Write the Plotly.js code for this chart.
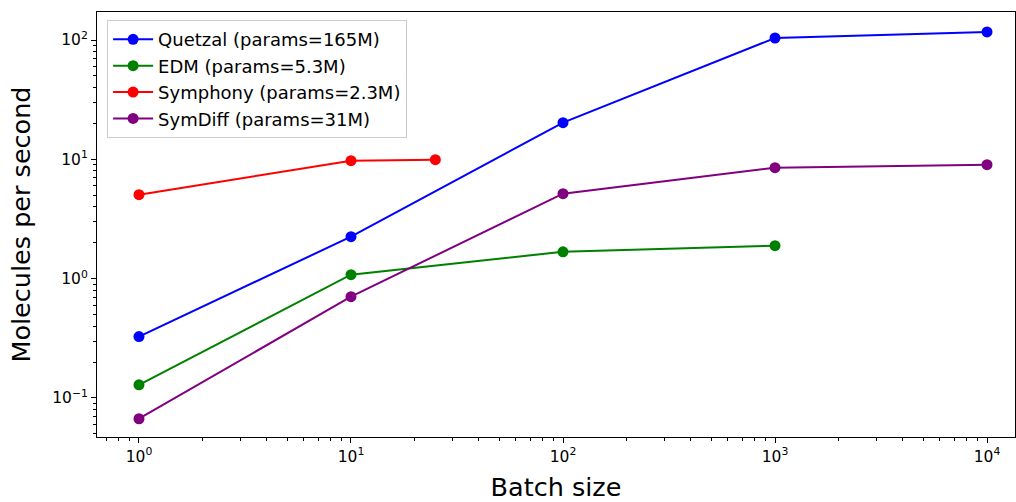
<!DOCTYPE html>
<html>
<head>
<meta charset="utf-8">
<script src="https://cdn.plot.ly/plotly-3.0.1.min.js"></script>
<style>html,body{margin:0;padding:0;background:#fff;}#chart{width:1016px;height:502px;}</style>
</head>
<body>
<div id="chart"></div>
<script>
// Data
const seriesNames = ["Quetzal (params=165M)", "EDM (params=5.3M)", "Symphony (params=2.3M)", "SymDiff (params=31M)"];
const quetzalX = [1, 10, 100, 1000, 10000];
const quetzalY = [0.327, 2.25, 20.3, 104, 117];
const edmX = [1, 10, 100, 1000];
const edmY = [0.129, 1.08, 1.68, 1.89];
const symphonyX = [1, 10, 25];
const symphonyY = [5.06, 9.75, 9.94];
const symdiffX = [1, 10, 100, 1000, 10000];
const symdiffY = [0.067, 0.707, 5.16, 8.52, 9.03];
const xTickVals = [1, 10, 100, 1000, 10000];
const xTickText = ["10<sup>0</sup>", "10<sup>1</sup>", "10<sup>2</sup>", "10<sup>3</sup>", "10<sup>4</sup>"];
const yTickVals = [0.1, 1, 10, 100];
const yTickText = ["10<sup>−1</sup>", "10<sup>0</sup>", "10<sup>1</sup>", "10<sup>2</sup>"];

const colors = ["#0000ff", "#008000", "#ff0000", "#800080"];
const xs = [quetzalX, edmX, symphonyX, symdiffX];
const ys = [quetzalY, edmY, symphonyY, symdiffY];

const traces = seriesNames.map((n, i) => ({
  x: xs[i], y: ys[i], name: n, type: 'scatter', mode: 'lines+markers',
  line: {color: colors[i], width: 2},
  marker: {color: colors[i], size: 11}
}));

function minorVals(lo, hi) {
  const v = [];
  for (let e = lo; e <= hi; e++) for (let m = 2; m <= 9; m++) v.push(m * Math.pow(10, e));
  return v;
}

const axisCommon = {
  type: 'log', showgrid: false, zeroline: false,
  showline: true, linecolor: '#000', linewidth: 1, mirror: true,
  ticks: 'outside', ticklen: 5, tickwidth: 1, tickcolor: '#000',
  tickmode: 'array',
  tickfont: {family: 'DejaVu Sans', size: 15.5, color: '#000'},
};

const layout = {
  width: 1016, height: 502,
  margin: {l: 97, r: 1, t: 12, b: 65},
  paper_bgcolor: '#fff', plot_bgcolor: '#fff',
  font: {family: 'DejaVu Sans', color: '#000'},
  showlegend: true,
  legend: {
    x: 0.011, y: 0.981, xanchor: 'left', yanchor: 'top',
    bgcolor: 'rgba(255,255,255,0.8)', bordercolor: '#cccccc', borderwidth: 1,
    font: {family: 'DejaVu Sans', size: 18, color: '#000'},
    itemwidth: 40, tracegroupgap: 0
  },
  xaxis: Object.assign({}, axisCommon, {
    range: [-0.198, 4.132],
    tickvals: xTickVals, ticktext: xTickText,
    minor: {ticks: 'outside', ticklen: 3, tickcolor: '#000', tickmode: 'array', tickvals: minorVals(-1, 4)},
    title: {text: 'Batch size', font: {family: 'DejaVu Sans', size: 25.5, color: '#000'}, standoff: 14}
  }),
  yaxis: Object.assign({}, axisCommon, {
    range: [-1.327, 2.235],
    tickvals: yTickVals, ticktext: yTickText,
    minor: {ticks: 'outside', ticklen: 3, tickcolor: '#000', tickmode: 'array', tickvals: minorVals(-2, 2)},
    title: {text: 'Molecules per second', font: {family: 'DejaVu Sans', size: 25.5, color: '#000'}, standoff: 14}
  })
};

Plotly.newPlot('chart', traces, layout, {displayModeBar: false, staticPlot: true});
</script>
</body>
</html>
